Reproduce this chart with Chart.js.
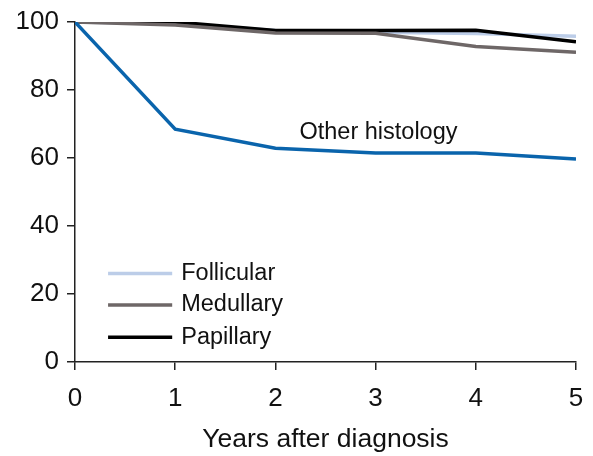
<!DOCTYPE html>
<html>
<head>
<meta charset="utf-8">
<script src="https://cdn.jsdelivr.net/npm/chart.js@4/dist/chart.umd.min.js"></script>
<style>
  html, body { margin: 0; padding: 0; background: #fff; }
  #wrap { width: 593px; height: 456px; position: relative; }
</style>
</head>
<body>
<div id="wrap"><canvas id="survivalChart" width="593" height="456"></canvas></div>
<script>
// years after diagnosis
const years = [0, 1, 2, 3, 4, 5];

// survival (%) per histology
const follicular = [100, 99.5, 97.5, 97, 96.6, 95.8];
const medullary = [100, 99.1, 96.8, 96.7, 92.8, 91.1];
const papillary = [100, 100, 97.5, 97.5, 97.6, 94.2];
const otherHistology = [100, 68.5, 62.9, 61.5, 61.5, 59.7];

const yTicks = [0, 20, 40, 60, 80, 100];

const FONT = '"Liberation Sans", Arial, sans-serif';

function toPoints(values) {
  return years.map((x, i) => ({ x: x, y: values[i] }));
}

// legend drawn inside the plot, bottom-left, plus the label for the blue line
const annotations = {
  id: 'annotations',
  afterDatasetsDraw(chart) {
    const ctx = chart.ctx;
    const x = chart.scales.x;
    const y = chart.scales.y;
    const rows = [
      { label: 'Follicular', color: '#bccde8', at: 26 },
      { label: 'Medullary', color: '#6e6767', at: 16.8 },
      { label: 'Papillary', color: '#000000', at: 7.3 }
    ];
    ctx.save();
    ctx.font = '23.5px ' + FONT;
    ctx.textBaseline = 'middle';
    ctx.fillStyle = '#111';
    rows.forEach(row => {
      const py = y.getPixelForValue(row.at);
      ctx.strokeStyle = row.color;
      ctx.lineWidth = 3.5;
      ctx.beginPath();
      ctx.moveTo(x.getPixelForValue(0.33), py);
      ctx.lineTo(x.getPixelForValue(0.97), py);
      ctx.stroke();
      ctx.fillText(row.label, x.getPixelForValue(1.06), py);
    });
    ctx.fillText('Other histology', x.getPixelForValue(2.24), y.getPixelForValue(67.6));
    ctx.restore();
  }
};

const line = (label, values, color, order) => ({
  label: label,
  data: toPoints(values),
  borderColor: color,
  borderWidth: 3.5,
  pointRadius: 0,
  tension: 0,
  order: order
});

new Chart(document.getElementById('survivalChart'), {
  type: 'line',
  data: {
    datasets: [
      line('Follicular', follicular, '#bccde8', 4),
      line('Papillary', papillary, '#000000', 3),
      line('Medullary', medullary, '#6e6767', 2),
      line('Other histology', otherHistology, '#0a64ac', 1)
    ]
  },
  options: {
    responsive: false,
    animation: false,
    layout: { padding: { top: 22, right: 17, left: 0, bottom: 0 } },
    plugins: {
      legend: { display: false },
      tooltip: { enabled: false }
    },
    scales: {
      x: {
        type: 'linear',
        min: 0,
        max: 5,
        afterFit: scale => {
          scale.height = 94;
          scale.paddingLeft = 0;
          scale.paddingRight = 0;
        },
        ticks: {
          stepSize: 1,
          padding: 13,
          color: '#111',
          font: { family: FONT, size: 26 }
        },
        grid: {
          drawOnChartArea: false,
          drawTicks: true,
          tickLength: 8,
          color: '#222',
          lineWidth: 1.5
        },
        border: { color: '#222', width: 1.5 },
        title: {
          display: true,
          text: 'Years after diagnosis',
          color: '#111',
          font: { family: FONT, size: 26.5 },
          padding: { top: 8, bottom: 0 }
        }
      },
      y: {
        min: 0,
        max: 100,
        afterFit: scale => {
          scale.width = 75;
          scale.paddingTop = 0;
          scale.paddingBottom = 0;
        },
        ticks: {
          stepSize: 10,
          padding: 8,
          color: '#111',
          font: { family: FONT, size: 26 },
          callback: value => (yTicks.includes(value) ? String(value) : '')
        },
        grid: {
          drawOnChartArea: false,
          drawTicks: true,
          tickLength: 8,
          color: '#222',
          lineWidth: 1.5
        },
        border: { color: '#222', width: 1.5 }
      }
    }
  },
  plugins: [annotations]
});
</script>
</body>
</html>
